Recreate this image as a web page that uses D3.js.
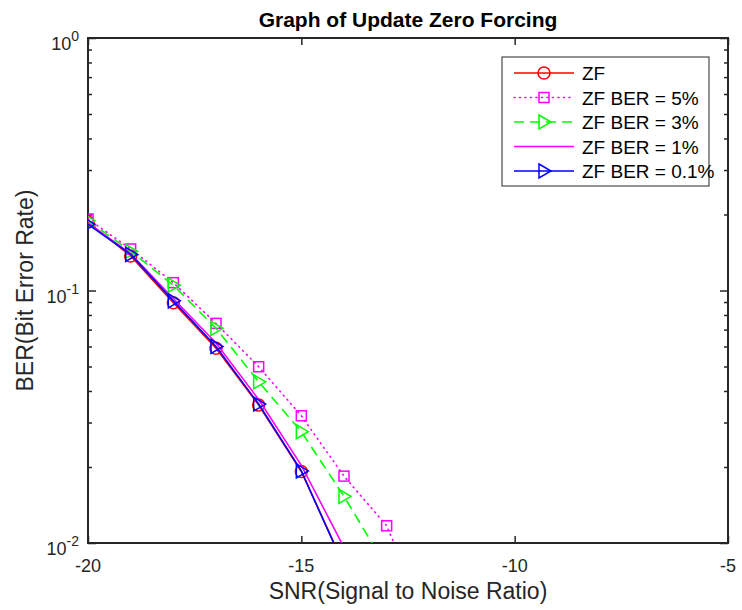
<!DOCTYPE html>
<html>
<head>
<meta charset="utf-8">
<script src="https://cdn.jsdelivr.net/npm/d3@7"></script>
<style>
body { margin: 0; background: #fff; }
text { font-family: "Liberation Sans", Arial, sans-serif; }
</style>
</head>
<body>
<div id="chart"></div>
<script>
// SNR points (dB)
const snr = [-20, -19, -18, -17, -16, -15, -14, -13, -12];

// BER values
const berZF     = [0.1866, 0.137, 0.0894, 0.0591, 0.0352, 0.0192, 0.0082];
const berZF5    = [0.192, 0.146, 0.1074, 0.0741, 0.0499, 0.0319, 0.0184, 0.0117, 0.0047];
const berZF3    = [0.189, 0.143, 0.105, 0.0708, 0.0435, 0.0276, 0.0153, 0.0080];
const berZF1    = [0.185, 0.140, 0.093, 0.062, 0.0370, 0.0203, 0.0096];
const berZF01   = [0.183, 0.139, 0.091, 0.060, 0.0355, 0.0193, 0.0081];

const seriesNames = ["ZF", "ZF BER = 5%", "ZF BER = 3%", "ZF BER = 1%", "ZF BER = 0.1%"];
const xTicks = [-20, -15, -10, -5];
const yTicks = [1e-2, 1e-1, 1];

const series = [
    {name: seriesNames[0], values: berZF,   color: "#ff0000", dash: null,    marker: "circle"},
    {name: seriesNames[1], values: berZF5,  color: "#ff00ff", dash: "1,4.5", marker: "square"},
    {name: seriesNames[2], values: berZF3,  color: "#00ff00", dash: "10,6",  marker: "triangle"},
    {name: seriesNames[3], values: berZF1,  color: "#ff00ff", dash: null,    marker: null},
    {name: seriesNames[4], values: berZF01, color: "#0000ff", dash: null,    marker: "triangle"}
];

const width = 742, height = 610;
const margin = {top: 38, right: 14, bottom: 67, left: 88};
const w = width - margin.left - margin.right;
const h = height - margin.top - margin.bottom;
const axisColor = "#262626";

const svg = d3.select("#chart").append("svg")
    .attr("width", width)
    .attr("height", height);

const g = svg.append("g")
    .attr("transform", `translate(${margin.left},${margin.top})`);

const x = d3.scaleLinear().domain([-20, -5]).range([0, w]);
const y = d3.scaleLog().domain([1e-2, 1]).range([h, 0]);

svg.append("defs").append("clipPath").attr("id", "plotclip")
    .append("rect").attr("width", w).attr("height", h);

// minor ticks for log axis
const minorTicks = [];
[1e-2, 1e-1].forEach(d => { for (let k = 2; k <= 9; k++) minorTicks.push(d * k); });

function styleAxis(sel) {
    sel.select(".domain").remove();
    sel.selectAll("line").attr("stroke", axisColor).attr("stroke-width", 1.5);
}

// x ticks, bottom and top, pointing inward
g.append("g").attr("transform", `translate(0,${h})`)
    .call(d3.axisBottom(x).tickValues(xTicks).tickSize(-7).tickFormat(""))
    .call(styleAxis);
g.append("g")
    .call(d3.axisTop(x).tickValues(xTicks).tickSize(-7).tickFormat(""))
    .call(styleAxis);

// y ticks, left and right
[[d3.axisLeft, 0], [d3.axisRight, w]].forEach(([ax, tx]) => {
    g.append("g").attr("transform", `translate(${tx},0)`)
        .call(ax(y).tickValues(yTicks).tickSize(-8).tickFormat(""))
        .call(styleAxis);
    g.append("g").attr("transform", `translate(${tx},0)`)
        .call(ax(y).tickValues(minorTicks).tickSize(-4).tickFormat(""))
        .call(styleAxis);
});

// x tick labels
g.selectAll(".xlabel").data(xTicks).enter().append("text")
    .attr("x", d => x(d))
    .attr("y", h + 29)
    .attr("text-anchor", "middle")
    .attr("font-size", 18)
    .attr("fill", axisColor)
    .text(d => d);

// y tick labels 10^n
const ylab = g.selectAll(".ylabel").data(yTicks).enter().append("text")
    .attr("x", -9)
    .attr("y", d => y(d) + 12)
    .attr("text-anchor", "end")
    .attr("font-size", 18)
    .attr("fill", axisColor);
ylab.append("tspan").text("10");
ylab.append("tspan").attr("dy", -9).attr("font-size", 14)
    .text(d => Math.round(Math.log10(d)));

// box
g.append("rect")
    .attr("width", w).attr("height", h)
    .attr("fill", "none")
    .attr("stroke", axisColor)
    .attr("stroke-width", 2);

// lines and markers
const plot = g.append("g").attr("clip-path", "url(#plotclip)");

const line = d3.line()
    .x((d, i) => x(snr[i]))
    .y(d => y(d));

function drawMarker(sel, type, color) {
    if (type === "circle") {
        sel.append("circle").attr("r", 6);
    } else if (type === "square") {
        sel.append("rect").attr("x", -5).attr("y", -5).attr("width", 10).attr("height", 10);
    } else if (type === "triangle") {
        sel.append("path").attr("d", "M-5,-7L7,0L-5,7Z");
    }
    sel.selectAll("*")
        .attr("fill", "none")
        .attr("stroke", color)
        .attr("stroke-width", 1.5);
}

series.forEach(s => {
    plot.append("path")
        .datum(s.values)
        .attr("d", line)
        .attr("fill", "none")
        .attr("stroke", s.color)
        .attr("stroke-width", 1.6)
        .attr("stroke-dasharray", s.dash)
        .attr("stroke-linecap", s.dash && s.dash.startsWith("1,") ? "round" : "butt");

    if (s.marker) {
        plot.selectAll(null).data(s.values).enter().append("g")
            .attr("transform", (d, i) => `translate(${x(snr[i])},${y(d)})`)
            .each(function() { drawMarker(d3.select(this), s.marker, s.color); });
    }
});

// legend
const legend = svg.append("g").attr("transform", "translate(502,57)");
legend.append("rect")
    .attr("width", 207).attr("height", 129)
    .attr("fill", "#fff")
    .attr("stroke", axisColor)
    .attr("stroke-width", 1);

const item = legend.selectAll(".item").data(series).enter().append("g")
    .attr("transform", (d, i) => `translate(0,${16 + i * 24.5})`);
item.append("line")
    .attr("x1", 12).attr("x2", 72)
    .attr("stroke", d => d.color)
    .attr("stroke-width", 1.6)
    .attr("stroke-dasharray", d => d.dash)
    .attr("stroke-linecap", d => d.dash && d.dash.startsWith("1,") ? "round" : "butt");
item.each(function(d) {
    if (d.marker) {
        const m = d3.select(this).append("g").attr("transform", "translate(42,0)");
        drawMarker(m, d.marker, d.color);
    }
});
item.append("text")
    .attr("x", 80)
    .attr("y", 7)
    .attr("font-size", 19)
    .attr("fill", "#000")
    .text(d => d.name);

// title and axis labels
svg.append("text")
    .attr("x", margin.left + w / 2)
    .attr("y", 27)
    .attr("text-anchor", "middle")
    .attr("font-size", 21)
    .attr("font-weight", "bold")
    .attr("fill", "#000")
    .text("Graph of Update Zero Forcing");

svg.append("text")
    .attr("x", margin.left + w / 2)
    .attr("y", 599)
    .attr("text-anchor", "middle")
    .attr("font-size", 23)
    .attr("fill", axisColor)
    .text("SNR(Signal to Noise Ratio)");

svg.append("text")
    .attr("transform", `translate(33,${margin.top + h / 2}) rotate(-90)`)
    .attr("text-anchor", "middle")
    .attr("font-size", 23)
    .attr("fill", axisColor)
    .text("BER(Bit Error Rate)");
</script>
</body>
</html>
